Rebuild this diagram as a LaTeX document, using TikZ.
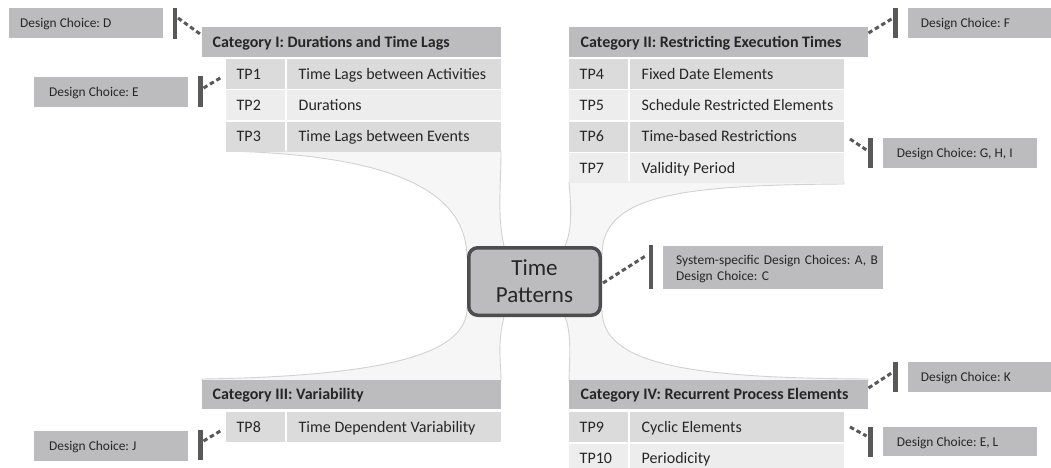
\documentclass[tikz,border=0pt]{standalone}
\usepackage{fontspec}
\setmainfont{Carlito}
\usetikzlibrary{calc}
\frenchspacing

\definecolor{hdrgray}{HTML}{BCBCBE}
\definecolor{rowdark}{HTML}{DBDBDB}
\definecolor{rowlight}{HTML}{EDEDED}
\definecolor{bargray}{HTML}{595959}
\definecolor{framegray}{HTML}{4D4D4D}
\definecolor{branchfill}{HTML}{F6F6F6}
\definecolor{branchline}{HTML}{D2D2D2}
\definecolor{ink}{HTML}{262626}

% one pattern row: TP cell, name cell and their texts
\newcommand\tprow[6]{%
  \node[lcell, fill=#4] (#1a) at (#2,#3) {};
  \node[rcell, fill=#4] (#1b) at (#2+60.5,#3) {};
  \node[ctext] (#1at) at ($(#1a.west)+(10.5,0)$) {#5};
  \node[ctext] (#1bt) at ($(#1b.west)+(12,0)$) {#6};
}

\begin{document}
\begin{tikzpicture}[x=1pt, y=-1pt,
  branch/.style={fill=branchfill, draw=branchline, line width=0.9pt},
  hdrcell/.style={anchor=north west, fill=hdrgray, inner sep=0pt,
    minimum width=299pt, minimum height=29.5pt},
  lcell/.style={anchor=north west, inner sep=0pt,
    minimum width=58.5pt, minimum height=30pt},
  rcell/.style={anchor=north west, inner sep=0pt,
    minimum width=214.5pt, minimum height=30pt},
  ctext/.style={anchor=west, inner sep=0pt, text=ink,
    font=\fontsize{16}{19}\selectfont, text height=10.3pt, text depth=0pt},
  htext/.style={ctext, font=\bfseries\fontsize{16}{19}\selectfont},
  dbox/.style={anchor=north west, fill=hdrgray, inner sep=0pt,
    minimum width=154pt, minimum height=30pt},
  dtext/.style={anchor=west, inner sep=0pt, text=ink,
    font=\fontsize{13.4}{16}\selectfont, text height=8.6pt, text depth=0pt},
  vbar/.style={anchor=north west, fill=bargray, inner sep=0pt,
    minimum width=4.5pt},
  conn/.style={draw=bargray, line width=3pt, dash pattern=on 4.5pt off 3pt},
  centerbox/.style={draw=framegray, fill=hdrgray, line width=3.5pt,
    rounded corners=9pt, minimum width=131.5pt, minimum height=67.5pt,
    inner sep=0pt, align=center, text width=120pt, text=ink,
    font=\fontsize{23}{27.3}\selectfont, text height=14.8pt, text depth=27.3pt},
]
\useasboundingbox (0,0) rectangle (1051,468);
\clip (0,0) rectangle (1051,468);

% ---- branches from the centre to the four categories ----
\draw[branch] (226,151) .. controls (395,155) and (467,192) .. (467,258)
  -- (505,258) -- (504,246) .. controls (497,215) and (501,185) .. (501,151) -- cycle;
\draw[branch] (844,182) -- (844,184) .. controls (680,185) and (602,195) .. (602,255)
  -- (565,255) -- (565,246) .. controls (571,232) and (572,215) .. (569,182) -- cycle;
\draw[branch] (202,381) -- (202,379) .. controls (400,376) and (467,350) .. (467,308)
  -- (505,308) -- (504,317) .. controls (497,345) and (501,362) .. (501,381) -- cycle;
\draw[branch] (868,381) -- (868,379) .. controls (690,378) and (602,365) .. (602,310)
  -- (565,310) -- (565,317) .. controls (571,332) and (570,350) .. (569,381) -- cycle;

% ---- centre ----
\node[centerbox] (center) at (534.5,281.5) {Time\\Patterns};

% ---- Category I ----
\node[hdrcell] (catI) at (202,27) {};
\node[htext] (catIt) at ($(catI.west)+(10.5,0)$) {Category I: Durations and Time Lags};
\tprow{tpA}{226}{59}{rowdark}{TP1}{Time Lags between Activities}
\tprow{tpB}{226}{90.3}{rowlight}{TP2}{Durations}
\tprow{tpC}{226}{121.6}{rowdark}{TP3}{Time Lags between Events}

% ---- Category II ----
\node[hdrcell] (catII) at (569,27) {};
\node[htext] (catIIt) at ($(catII.west)+(11.5,0)$) {Category II: Restricting Execution Times};
\tprow{tpD}{569}{59}{rowdark}{TP4}{Fixed Date Elements}
\tprow{tpE}{569}{90.3}{rowlight}{TP5}{Schedule Restricted Elements}
\tprow{tpF}{569}{121.6}{rowdark}{TP6}{Time-based Restrictions}
\tprow{tpG}{569}{152.9}{rowlight}{TP7}{Validity Period}

% ---- Category III ----
\node[hdrcell] (catIII) at (202,379.5) {};
\node[htext] (catIIIt) at ($(catIII.west)+(10.5,0)$) {Category III: Variability};
\tprow{tpH}{226}{412}{rowdark}{TP8}{Time Dependent Variability}

% ---- Category IV ----
\node[hdrcell] (catIV) at (569,379.5) {};
\node[htext] (catIVt) at ($(catIV.west)+(11.5,0)$) {Category IV: Recurrent Process Elements};
\tprow{tpI}{569}{412}{rowdark}{TP9}{Cyclic Elements}
\tprow{tpJ}{569}{443.3}{rowlight}{TP10}{Periodicity}

% ---- design choices ----
\node[dbox] (dD) at (9,8) {};
\node[dtext] (dDt) at ($(dD.west)+(11,0)$) {Design Choice: D};
\node[vbar, minimum height=31pt] (bD) at (172.7,7.5) {};

\node[dbox] (dE) at (34,77) {};
\node[dtext] (dEt) at ($(dE.west)+(15,0)$) {Design Choice: E};
\node[vbar, minimum height=31pt] (bE) at (198,76) {};

\node[dbox] (dJ) at (34,430.5) {};
\node[dtext] (dJt) at ($(dJ.west)+(15,0)$) {Design Choice: J};
\node[vbar, minimum height=30.5pt] (bJ) at (198,429.5) {};

\node[dbox] (dF) at (908,8) {};
\node[dtext] (dFt) at ($(dF.west)+(12.7,0)$) {Design Choice: F};
\node[vbar, minimum height=30pt] (bF) at (892.8,8) {};

\node[dbox, minimum height=29.5pt] (dG) at (883,138) {};
\node[dtext] (dGt) at ($(dG.west)+(13.7,0)$) {Design Choice: G, H, I};
\node[vbar, minimum height=30pt] (bG) at (868,138) {};

\node[dbox] (dK) at (908,362) {};
\node[dtext] (dKt) at ($(dK.west)+(12.7,0)$) {Design Choice: K};
\node[vbar, minimum height=30pt] (bK) at (892.8,362) {};

\node[dbox, minimum height=29pt] (dL) at (883,427) {};
\node[dtext] (dLt) at ($(dL.west)+(13.7,0)$) {Design Choice: E, L};
\node[vbar, minimum height=29.5pt] (bL) at (868,427) {};

\node[dbox, minimum width=220pt, minimum height=43pt] (dA) at (663,246) {};
\node[dtext, text depth=16pt, align=left, text width=205pt] (dAt) at ($(dA.west)+(13,0)$)
  {System-specific Design Choices: A, B\\Design Choice: C};
\node[vbar, minimum height=44pt] (bA) at (648.5,245) {};

% ---- connector end points ----
\coordinate (cD1) at (178,18);    \coordinate (cD2) at (201.5,35);
\coordinate (cE1) at (203.5,88);  \coordinate (cE2) at (222,77);
\coordinate (cJ1) at (203.5,441); \coordinate (cJ2) at (222,430);
\coordinate (cF1) at (868.5,33);  \coordinate (cF2) at (891.5,19);
\coordinate (cG1) at (850,139);   \coordinate (cG2) at (866.5,150);
\coordinate (cK1) at (868.5,388); \coordinate (cK2) at (891.5,373);
\coordinate (cL1) at (850,427);   \coordinate (cL2) at (866.5,436);
\coordinate (cA1) at (603,283);   \coordinate (cA2) at (647,255);

\draw[conn] (cD1) -- (cD2);
\draw[conn] (cE1) -- (cE2);
\draw[conn] (cJ1) -- (cJ2);
\draw[conn] (cF1) -- (cF2);
\draw[conn] (cG1) -- (cG2);
\draw[conn] (cK1) -- (cK2);
\draw[conn] (cL1) -- (cL2);
\draw[conn] (cA1) -- (cA2);
\end{tikzpicture}
\end{document}
